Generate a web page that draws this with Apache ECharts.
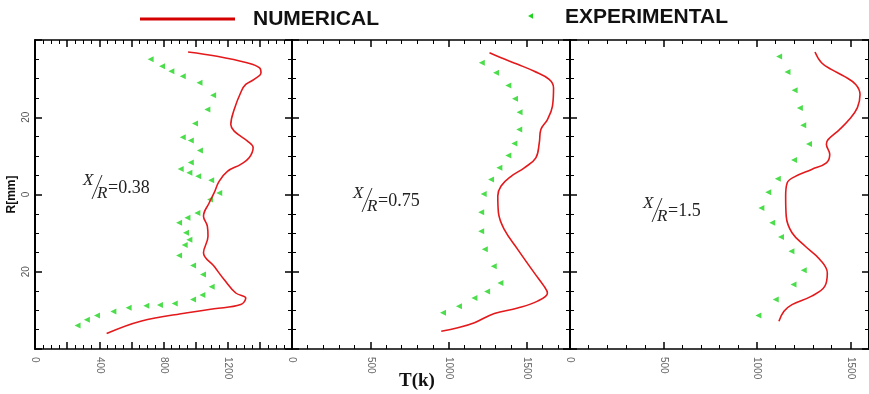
<!DOCTYPE html>
<html><head><meta charset="utf-8">
<script src="https://cdn.jsdelivr.net/npm/echarts/dist/echarts.min.js"></script>
<style>html,body{margin:0;padding:0;background:#fff}#c{width:869px;height:394px}</style>
</head><body><div id="c"></div>
<script>
// ---- data ----
const panelRatios = ['0.38', '0.75', '1.5'];
const xLabels1 = [0, 400, 800, 1200];
const xLabels23 = [0, 500, 1000, 1500];
const yTickValues = [20, 0, -20];
const yTickTexts = ['20', '0', '20'];
const seriesNames = ['NUMERICAL', 'EXPERIMENTAL'];

const numerical1 = [[953,36.9],[1133,35.8],[1320,34.1],[1398,32.8],[1407,31.5],[1364,29.8],[1312,28.5],[1285,26.8],[1240,22.0],[1219,18.1],[1240,16.4],[1323,13.8],[1358,12.1],[1333,9.5],[1281,7.8],[1198,6.0],[1146,3.4],[1115,0.4],[1084,-2.2],[1049,-5.6],[1073,-8.2],[1077,-10.8],[1049,-15.1],[1115,-18.6],[1177,-22.0],[1250,-25.5],[1312,-26.8],[1281,-28.5],[1115,-29.6],[949,-30.6],[658,-32.8],[446,-36.0]];
const experimental1 = [[720,35.0],[791,33.2],[849,31.9],[920,30.6],[1024,28.9],[1109,25.7],[1073,22.0],[996,18.4],[920,14.8],[970,14.0],[1027,11.4],[970,8.3],[907,6.6],[961,5.6],[1016,4.7],[1097,3.7],[1147,0.4],[1090,-1.3],[1011,-4.8],[949,-6.0],[897,-7.3],[940,-9.9],[961,-11.7],[932,-13.1],[897,-15.8],[984,-18.4],[1046,-20.7],[1100,-23.9],[1042,-26.0],[984,-27.2],[870,-28.2],[778,-28.6],[693,-28.8],[583,-29.3],[488,-30.3],[386,-31.3],[323,-32.4],[265,-33.9]];

const numerical2 = [[1261,36.7],[1335,35.4],[1441,33.7],[1547,31.9],[1642,29.8],[1670,27.6],[1663,22.9],[1631,19.4],[1589,16.8],[1579,13.4],[1557,9.5],[1483,6.9],[1399,4.7],[1335,2.2],[1314,-0.4],[1318,-4.7],[1356,-9.1],[1441,-14.2],[1547,-20.3],[1610,-23.8],[1631,-25.5],[1568,-27.6],[1441,-29.4],[1292,-30.8],[1165,-33.2],[1059,-34.5],[953,-35.4]];
const experimental2 = [[1212,34.1],[1303,31.5],[1381,28.2],[1424,24.8],[1453,21.3],[1451,16.8],[1420,13.2],[1381,10.1],[1324,6.9],[1271,3.9],[1224,0.1],[1208,-4.6],[1208,-9.5],[1231,-14.2],[1288,-18.6],[1331,-22.9],[1246,-25.1],[1165,-26.8],[1066,-28.9],[964,-30.6]];

const numerical3 = [[1311,36.9],[1346,34.1],[1398,32.4],[1468,30.6],[1529,28.5],[1552,25.9],[1538,22.5],[1494,19.4],[1442,16.8],[1381,14.2],[1372,13.0],[1390,10.4],[1372,8.2],[1293,6.5],[1206,4.7],[1162,3.0],[1154,-0.4],[1157,-5.6],[1188,-9.9],[1259,-13.4],[1337,-16.8],[1377,-20.3],[1363,-23.8],[1293,-26.3],[1188,-28.5],[1145,-30.2],[1118,-32.8]];
const experimental3 = [[1119,35.7],[1164,31.7],[1202,27.0],[1230,22.4],[1248,17.9],[1279,13.1],[1199,8.9],[1112,4.1],[1061,0.6],[1024,-3.5],[1082,-7.3],[1129,-11.0],[1185,-14.7],[1251,-19.6],[1196,-23.3],[1101,-27.2],[1008,-31.3]];

// ---- layout / style ----
const RED = '#e3191c', GREEN = '#1fd41f';
const TRI = 'path://M0,5L10,0L10,10Z';
const grids = [
  {left: 35, top: 40, width: 257, height: 309},
  {left: 292, top: 40, width: 278, height: 309},
  {left: 570, top: 40, width: 306, height: 309}
];
const xCfg = [
  {max: 1600, interval: 200, split: 4, labels: xLabels1},
  {max: 1775, interval: 500, split: 5, labels: xLabels23},
  {max: 1600, interval: 500, split: 5, labels: xLabels23}
];
function xAxis(g, pos) {
  const c = xCfg[g];
  return {
    type: 'value', gridIndex: g, position: pos, min: 0, max: c.max, interval: c.interval,
    axisLine: {show: true, onZero: false, lineStyle: {color: '#000', width: 1.5}},
    axisTick: {show: true, inside: true, length: 7, lineStyle: {color: '#000', width: 1.5}},
    minorTick: {show: true, splitNumber: c.split, length: 4, lineStyle: {color: '#000', width: 1}},
    splitLine: {show: false},
    axisLabel: {show: pos === 'bottom', rotate: -90, margin: 8, fontSize: 10, color: '#666',
      fontFamily: 'Liberation Sans',
      formatter: v => c.labels.indexOf(v) >= 0 ? String(v) : ''}
  };
}
function yAxis(g, pos) {
  const o = {
    type: 'value', gridIndex: g, position: pos, min: -40, max: 40, interval: 20,
    axisLine: {show: true, onZero: false, lineStyle: {color: '#000', width: 2}},
    axisTick: {show: true, inside: true, length: 7, lineStyle: {color: '#000', width: 1.5}},
    minorTick: {show: true, splitNumber: 4, length: 4, lineStyle: {color: '#000', width: 1}},
    splitLine: {show: false},
    axisLabel: {show: g === 0 && pos === 'left', rotate: 90, margin: 4, fontSize: 10, color: '#555',
      fontFamily: 'Liberation Sans',
      formatter: v => { const i = yTickValues.indexOf(v); return i >= 0 ? yTickTexts[i] : ''; }}
  };
  if (g === 0 && pos === 'left') {
    o.name = 'R[mm]'; o.nameLocation = 'middle'; o.nameRotate = 90; o.nameGap = 17;
    o.nameTextStyle = {fontWeight: 'bold', fontSize: 12, color: '#111', fontFamily: 'Liberation Sans'};
  }
  return o;
}
const xAxes = [], yAxes = [];
for (let g = 0; g < 3; g++) {
  xAxes.push(xAxis(g, 'bottom'), xAxis(g, 'top'));
  yAxes.push(yAxis(g, 'left'), yAxis(g, 'right'));
}
const numData = [numerical1, numerical2, numerical3];
const expData = [experimental1, experimental2, experimental3];
const series = [];
for (let g = 0; g < 3; g++) {
  series.push({type: 'line', name: seriesNames[0], xAxisIndex: 2 * g, yAxisIndex: 2 * g,
    data: numData[g], smooth: 0.4, showSymbol: false, silent: true,
    lineStyle: {color: RED, width: 1.6}});
  series.push({type: 'scatter', name: seriesNames[1], xAxisIndex: 2 * g, yAxisIndex: 2 * g,
    data: expData[g], symbol: TRI, symbolSize: 6, itemStyle: {color: GREEN}});
}

// annotations X/R = ...
const annPos = [[83, 181], [353, 194], [643, 204]];
const graphics = [];
annPos.forEach((p, i) => {
  const [l, c] = p;
  graphics.push({type: 'text', x: l, y: c, style: {text: 'X', font: 'italic 17px "Liberation Serif"', fill: '#222', verticalAlign: 'middle'}});
  graphics.push({type: 'line', shape: {x1: l + 19, y1: c - 6, x2: l + 9, y2: c + 18}, style: {stroke: '#333', lineWidth: 1}});
  graphics.push({type: 'text', x: l + 14, y: c + 13, style: {text: 'R', font: 'italic 17px "Liberation Serif"', fill: '#222', verticalAlign: 'middle'}});
  graphics.push({type: 'text', x: l + 25, y: c + 7.5, style: {text: '=' + panelRatios[i], font: '18px "Liberation Serif"', fill: '#222', verticalAlign: 'middle'}});
});
graphics.push({type: 'text', x: 417, y: 381, style: {text: 'T(k)', font: 'bold 19px "Liberation Serif"', fill: '#111', align: 'center', verticalAlign: 'middle'}});
// legend
graphics.push({type: 'line', shape: {x1: 140, y1: 19, x2: 235, y2: 19}, style: {stroke: '#d40000', lineWidth: 3}});
graphics.push({type: 'text', x: 253, y: 19, style: {text: seriesNames[0], font: 'bold 21px "Liberation Sans"', fill: '#111', verticalAlign: 'middle'}});
graphics.push({type: 'polygon', shape: {points: [[528, 16], [533, 13.2], [533, 18.8]]}, style: {fill: GREEN}});
graphics.push({type: 'text', x: 565, y: 17, style: {text: seriesNames[1], font: 'bold 21px "Liberation Sans"', fill: '#111', verticalAlign: 'middle'}});

const chart = echarts.init(document.getElementById('c'));
chart.setOption({
  animation: false,
  backgroundColor: '#fff',
  grid: grids,
  xAxis: xAxes,
  yAxis: yAxes,
  series: series,
  graphic: graphics
});
</script></body></html>
